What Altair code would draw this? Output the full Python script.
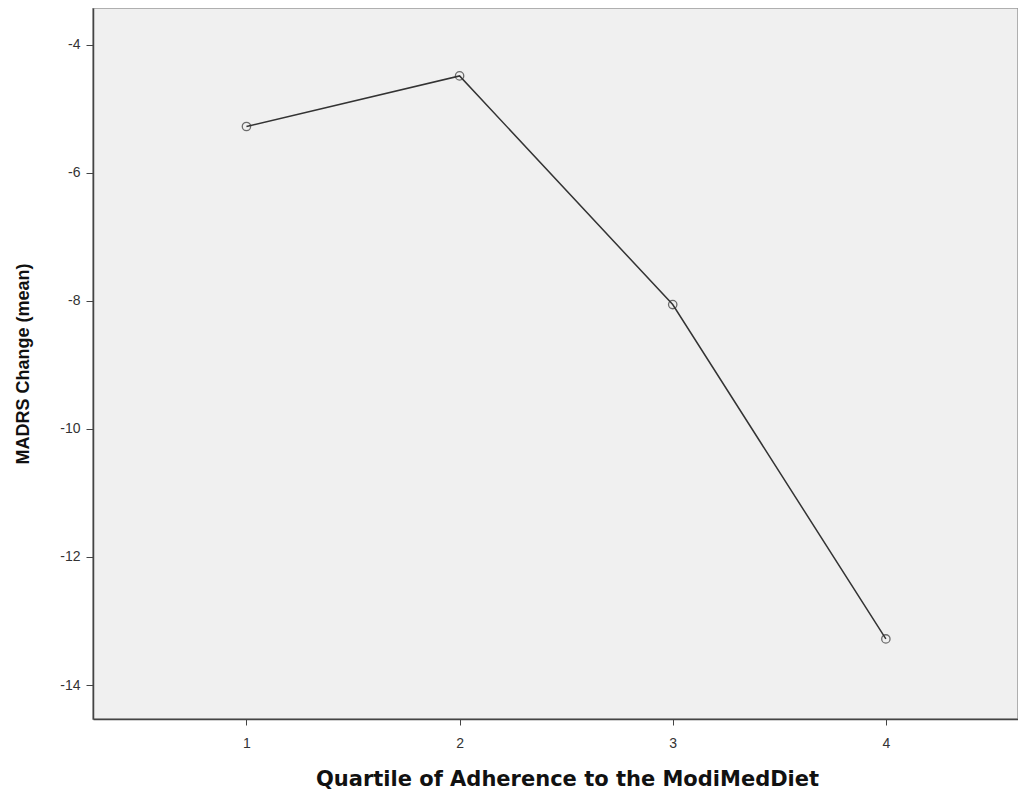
import altair as alt
import pandas as pd

quartiles = [1, 2, 3, 4]
madrs_change = [-5.28, -4.49, -8.06, -13.28]

df = pd.DataFrame({"quartile": quartiles, "change": madrs_change})

x_enc = alt.X(
    "quartile:Q",
    scale=alt.Scale(domain=[0.28, 4.62], nice=False, zero=False),
    axis=alt.Axis(
        values=[1, 2, 3, 4], format="d", grid=False,
        title="Quartile of Adherence to the ModiMedDiet",
        titleFont="DejaVu Sans", titleFontSize=21, titleFontWeight="bold",
        titleColor="#111", titlePadding=18, titleX=474,
        labelFont="Liberation Sans", labelFontSize=14, labelColor="#333",
        labelPadding=11, tickSize=6, tickColor="#444", domainColor="#444",
        domainWidth=1.5,
    ),
)
y_enc = alt.Y(
    "change:Q",
    scale=alt.Scale(domain=[-14.53, -3.43], nice=False, zero=False),
    axis=alt.Axis(
        values=[-4, -6, -8, -10, -12, -14], grid=False,
        labelExpr="replace(datum.label, '\u2212', '-')",
        title="MADRS Change (mean)",
        titleFont="Liberation Sans", titleFontSize=18, titleFontWeight="bold",
        titleColor="#111", titlePadding=27,
        labelFont="Liberation Sans", labelFontSize=14, labelColor="#333",
        labelPadding=6, tickSize=7, tickColor="#444", domainColor="#444",
        domainWidth=1.5,
    ),
)

line = alt.Chart(df).mark_line(color="#333", strokeWidth=1.5).encode(x=x_enc, y=y_enc)
pts = alt.Chart(df).mark_point(
    shape="circle", filled=False, size=70, color="#333", strokeWidth=1.3
).encode(x=x_enc, y=y_enc)

chart = (
    alt.layer(line, pts)
    .properties(
        width=925, height=711,
        autosize=alt.AutoSizeParams(type="none"),
        padding={"left": 85, "top": 0, "right": 0, "bottom": 70},
    )
    .configure(background="white")
    .configure_view(fill="#F0F0F0", stroke="#999", strokeWidth=1.5)
)

chart.save("out.html", embed_options={"renderer": "svg", "actions": False})
